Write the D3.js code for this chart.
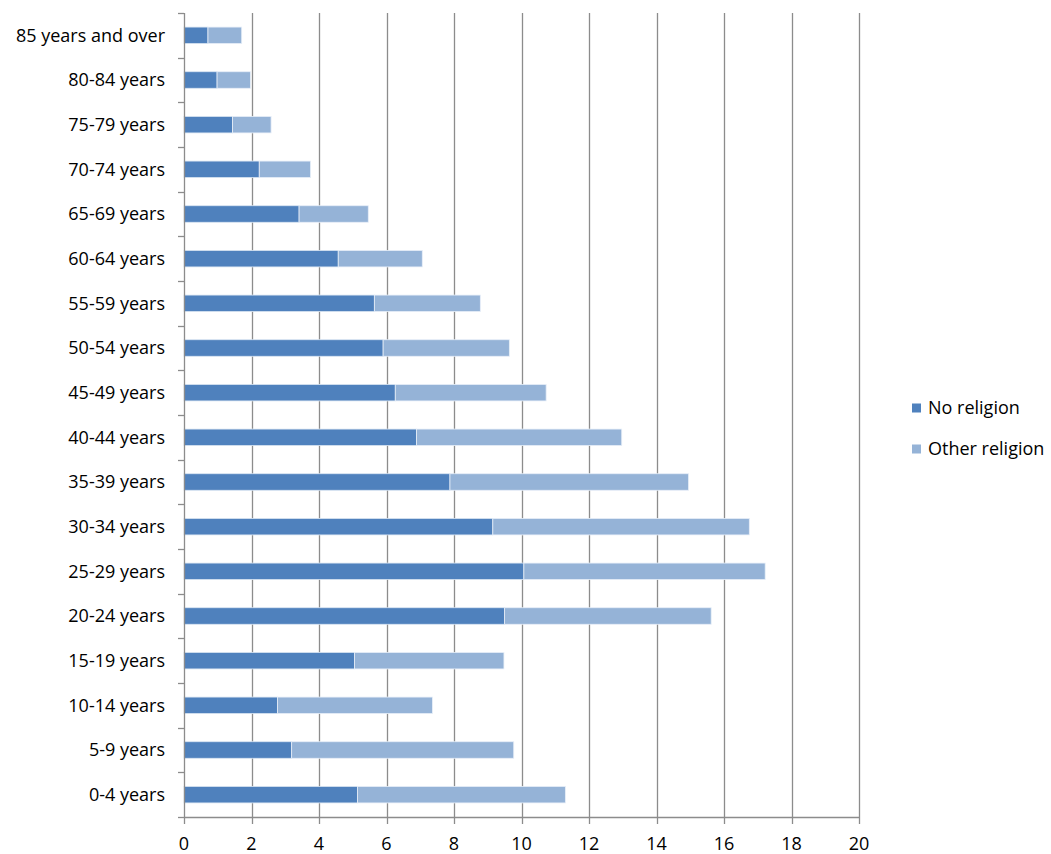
<!DOCTYPE html>
<html><head><meta charset="utf-8">
<script src="https://cdn.jsdelivr.net/npm/d3@7"></script>
<style>body{margin:0;background:#fff}svg{display:block}text{font-family:"Open Sans",Lato,sans-serif;fill:#000}</style>
</head><body><svg id="c" width="1051" height="854"></svg>
<script>
const categories = ["0-4 years","5-9 years","10-14 years","15-19 years","20-24 years","25-29 years","30-34 years","35-39 years","40-44 years","45-49 years","50-54 years","55-59 years","60-64 years","65-69 years","70-74 years","75-79 years","80-84 years","85 years and over"];
const noReligion = [5.14,3.19,2.77,5.05,9.50,10.07,9.15,7.88,6.89,6.26,5.90,5.64,4.57,3.41,2.23,1.44,0.98,0.71];
const otherReligion = [6.16,6.58,4.59,4.43,6.12,7.15,7.60,7.07,6.08,4.47,3.74,3.14,2.49,2.05,1.52,1.14,0.99,1.00];
const seriesNames = ["No religion","Other religion"];
const seriesColors = ["#4F81BD","#95B3D7"];
const xTicks = [0,2,4,6,8,10,12,14,16,18,20];

const svg = d3.select("#c");
const L = 184, R = 859, T = 13, B = 817;
const FS = 18;
const x = d3.scaleLinear().domain([0,20]).range([L,R]);
const y = d3.scaleBand().domain(categories.slice().reverse()).range([T,B]).paddingInner(0.63).paddingOuter(0.315);
const yb = d3.scaleBand().domain(categories.slice().reverse()).range([T,B]);

// gridlines
svg.append("g").selectAll("line").data(xTicks.slice(1)).join("line")
  .attr("x1",d=>Math.round(x(d))+0.5).attr("x2",d=>Math.round(x(d))+0.5)
  .attr("y1",T).attr("y2",B).attr("stroke","#8c8c8c").attr("stroke-width",1.3);

// bars
const rows = categories.map((c,i)=>({c, a:noReligion[i], b:otherReligion[i]}));
const g = svg.append("g");
rows.forEach(r=>{
  g.append("rect").attr("x",x(0)).attr("y",y(r.c)).attr("width",x(r.a)-x(0)).attr("height",y.bandwidth())
    .attr("fill",seriesColors[0]).attr("stroke","#dbe6f3").attr("stroke-width",0.8);
  g.append("rect").attr("x",x(r.a)).attr("y",y(r.c)).attr("width",x(r.a+r.b)-x(r.a)).attr("height",y.bandwidth())
    .attr("fill",seriesColors[1]).attr("stroke","#e8eff8").attr("stroke-width",0.8);
});

// y axis
const ya = svg.append("g");
ya.append("line").attr("x1",L+0.5).attr("x2",L+0.5).attr("y1",T).attr("y2",B).attr("stroke","#8c8c8c").attr("stroke-width",1.3);
const bounds = yb.domain().map(d=>yb(d)).concat([B]);
ya.selectAll("line.t").data(bounds).join("line").attr("class","t")
  .attr("x1",L-6).attr("x2",L).attr("y1",d=>Math.round(d)+0.5).attr("y2",d=>Math.round(d)+0.5)
  .attr("stroke","#8c8c8c").attr("stroke-width",1.3);
ya.selectAll("text").data(categories).join("text")
  .attr("x",165).attr("y",d=>yb(d)+yb.bandwidth()/2).attr("dy","0.35em")
  .attr("text-anchor","end").attr("font-size",FS).text(d=>d);

// x axis
const xa = svg.append("g");
xa.append("line").attr("x1",L).attr("x2",R).attr("y1",B+0.5).attr("y2",B+0.5).attr("stroke","#8c8c8c").attr("stroke-width",1.3);
xa.selectAll("line.t").data(xTicks).join("line").attr("class","t")
  .attr("x1",d=>Math.round(x(d))+0.5).attr("x2",d=>Math.round(x(d))+0.5).attr("y1",B).attr("y2",B+7)
  .attr("stroke","#8c8c8c").attr("stroke-width",1.3);
xa.selectAll("text").data(xTicks).join("text")
  .attr("x",d=>x(d)).attr("y",850).attr("text-anchor","middle").attr("font-size",FS).text(d=>d);

// legend
const lg = svg.append("g");
seriesNames.forEach((n,i)=>{
  const yy = 408 + i*41;
  lg.append("rect").attr("x",912).attr("y",yy-4.5).attr("width",9).attr("height",9).attr("fill",seriesColors[i]);
  lg.append("text").attr("x",928).attr("y",yy).attr("dy","0.35em").attr("font-size",FS).text(n);
});
</script></body></html>
